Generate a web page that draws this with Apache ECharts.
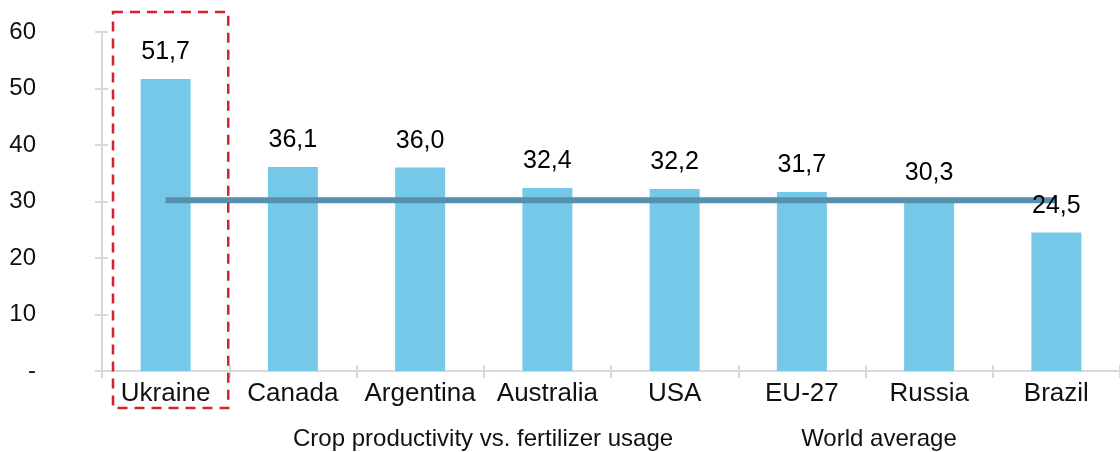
<!DOCTYPE html>
<html>
<head>
<meta charset="utf-8">
<script src="https://cdn.jsdelivr.net/npm/echarts@6/dist/echarts.min.js"></script>
<style>
  html, body { margin: 0; padding: 0; background: #fff; }
  #chart { width: 1120px; height: 452px; }
</style>
</head>
<body>
<div id="chart"></div>
<script>
// Crop productivity per unit of fertilizer, by country, with the world average
const countries = ['Ukraine', 'Canada', 'Argentina', 'Australia', 'USA', 'EU-27', 'Russia', 'Brazil'];
const productivity = [51.7, 36.1, 36.0, 32.4, 32.2, 31.7, 30.3, 24.5];
const worldAverage = [30.2, 30.2, 30.2, 30.2, 30.2, 30.2, 30.2, 30.2];
const yTicks = [0, 10, 20, 30, 40, 50, 60];

const FONT = '"Liberation Sans", Arial, sans-serif';
const AXIS_GREY = '#D9D9D9';
const yMin = yTicks[0], yMax = yTicks[yTicks.length - 1], yStep = yTicks[1] - yTicks[0];

const chart = echarts.init(document.getElementById('chart'), null, { renderer: 'canvas' });

chart.setOption({
  animation: false,
  backgroundColor: '#fff',
  textStyle: { fontFamily: FONT },
  grid: { left: 102, right: -6, top: 32, bottom: 81, containLabel: false },
  legend: {
    left: 258,
    top: 422,
    itemWidth: 25,
    itemHeight: 12,
    itemGap: 98,
    textStyle: { fontFamily: FONT, fontSize: 24, color: '#111' },
    data: [
      { name: 'Crop productivity vs. fertilizer usage', icon: 'rect', itemStyle: { color: 'rgba(0,0,0,0)' } },
      { name: 'World average', icon: 'rect', itemStyle: { color: 'rgba(0,0,0,0)' } }
    ]
  },
  xAxis: [
    {
      type: 'category',
      data: countries,
      boundaryGap: true,
      axisLine: { lineStyle: { color: AXIS_GREY, width: 2 } },
      axisTick: { show: true, interval: 0, length: 7, lineStyle: { color: AXIS_GREY, width: 2 } },
      axisLabel: { interval: 0, fontFamily: FONT, fontSize: 26, color: '#111', margin: 10 }
    },
    {
      type: 'category',
      data: countries,
      position: 'bottom',
      boundaryGap: true,
      axisLine: { show: false },
      axisTick: { show: true, interval: 0, inside: true, length: 6, lineStyle: { color: AXIS_GREY, width: 2 } },
      axisLabel: { show: false }
    }
  ],
  yAxis: [
    {
      type: 'value',
      min: yMin, max: yMax, interval: yStep,
      axisLine: { show: true, lineStyle: { color: AXIS_GREY, width: 2 } },
      axisTick: { show: true, length: 7, lineStyle: { color: AXIS_GREY, width: 2 } },
      splitLine: { show: false },
      axisLabel: {
        fontFamily: FONT, fontSize: 24, color: '#111', margin: 66,
        formatter: v => (v === 0 ? '-' : String(v))
      }
    },
    {
      type: 'value',
      min: yMin, max: yMax, interval: yStep,
      position: 'left',
      axisLine: { show: false },
      axisTick: { show: true, inside: true, length: 6, lineStyle: { color: AXIS_GREY, width: 2 } },
      splitLine: { show: false },
      axisLabel: { show: false }
    }
  ],
  series: [
    {
      name: 'Crop productivity vs. fertilizer usage',
      type: 'bar',
      data: productivity,
      barWidth: 50,
      itemStyle: { color: '#75C8E7' },
      z: 2
    },
    {
      name: 'World average',
      type: 'line',
      data: worldAverage,
      symbol: 'none',
      lineStyle: { color: '#5690AD', width: 6, cap: 'butt' },
      z: 3
    },
    {
      // value labels, kept above the average line
      name: 'labels',
      type: 'bar',
      data: productivity,
      barWidth: 50,
      barGap: '-100%',
      itemStyle: { color: 'rgba(0,0,0,0)' },
      silent: true,
      z: 4,
      label: {
        show: true,
        position: 'top',
        distance: 14,
        fontFamily: FONT,
        fontSize: 25,
        color: '#000',
        formatter: p => p.value.toFixed(1).replace('.', ',')
      }
    }
  ]
});

// Dashed highlight frame around the first country, placed from the axis scales
function drawHighlight() {
  const c0 = chart.convertToPixel({ xAxisIndex: 0 }, countries[0]);
  const c1 = chart.convertToPixel({ xAxisIndex: 0 }, countries[1]);
  const band = c1 - c0;
  const yTop = chart.convertToPixel({ yAxisIndex: 0 }, yMax);
  const yBottom = chart.convertToPixel({ yAxisIndex: 0 }, yMin);
  const x0 = c0 - band / 2 + 11;
  const x1 = c0 + band / 2 - 1;
  chart.setOption({
    graphic: [{
      type: 'rect',
      z: 10,
      shape: { x: x0, y: yTop - 20, width: x1 - x0, height: (yBottom + 37) - (yTop - 20) },
      style: { fill: 'none', stroke: '#D0222F', lineWidth: 2.5, lineDash: [10, 7] }
    }]
  });
}
drawHighlight();
</script>
</body>
</html>
